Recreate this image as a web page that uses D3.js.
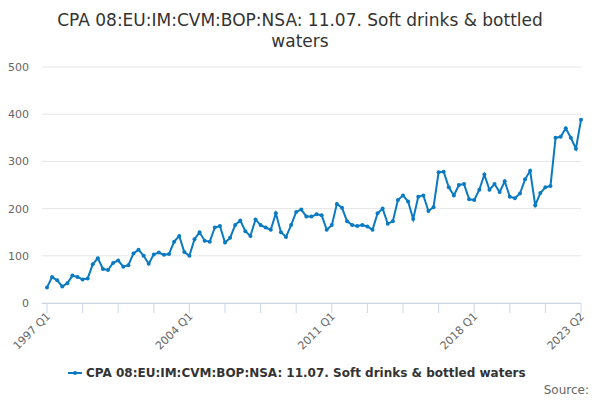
<!DOCTYPE html>
<html><head><meta charset="utf-8">
<script src="https://cdn.jsdelivr.net/npm/d3@7"></script>
<style>body{margin:0;background:#fff;font-family:"DejaVu Sans",sans-serif}</style>
</head><body><div id="chart"></div>
<script>
const seriesName = "CPA 08:EU:IM:CVM:BOP:NSA: 11.07. Soft drinks & bottled waters";
const startYear = 1997;
const values = [
  33, 55, 48, 35, 42, 58, 55, 50, 52, 82, 95, 72, 70, 85, 90, 77,
  80, 105, 113, 100, 83, 103, 107, 102, 104, 130, 142, 108,
  100, 135, 150, 132, 130, 160, 163, 128, 138, 165, 175, 152, 142, 177, 165, 160,
  155, 190, 150, 140, 165, 193, 198, 183, 183, 188, 186, 155,
  165, 210, 202, 173, 165, 163, 165, 162, 155, 190, 200, 168, 173, 218, 228, 215,
  178, 225, 228, 195, 203, 277, 278, 245, 228, 250, 252, 220,
  218, 240, 272, 240, 252, 235, 258, 225, 222, 232, 262, 280, 207, 233, 245, 248,
  350, 352, 370, 350, 327, 388
];
const labels = values.map((v, i) => `${startYear + Math.floor(i / 4)} Q${i % 4 + 1}`);
const yTicks = [0, 100, 200, 300, 400, 500];

const W = 600, H = 400;
const m = {left: 47, right: 19, top: 67, bottom: 103};
const svg = d3.select("#chart").append("svg").attr("width", W).attr("height", H);

svg.append("text").attr("x", 300).attr("y", 26).attr("text-anchor", "middle")
  .attr("font-size", 17).attr("fill", "#333").text("CPA 08:EU:IM:CVM:BOP:NSA: 11.07. Soft drinks & bottled");
svg.append("text").attr("x", 300).attr("y", 47).attr("text-anchor", "middle")
  .attr("font-size", 17).attr("fill", "#333").text("waters");

const x = d3.scaleLinear().domain([0, values.length - 1]).range([m.left, W - m.right]);
const y = d3.scaleLinear().domain([0, 500]).range([H - m.bottom + 6, m.top]);

// grid
svg.append("g").selectAll("line").data(yTicks).join("line")
  .attr("x1", m.left - 5).attr("x2", W - m.right).attr("y1", d => y(d)).attr("y2", d => y(d))
  .attr("stroke", "#e6e6e6");
svg.append("g").selectAll("text").data(yTicks).join("text")
  .attr("x", 29).attr("y", d => y(d) + 4).attr("text-anchor", "end")
  .attr("font-size", 11).attr("fill", "#666").text(d => d);

// x axis
const tickIdx = d3.range(0, values.length, 7);
const labelIdx = [0, 28, 56, 84, 105];
const xa = svg.append("g");
xa.append("line").attr("x1", m.left - 5).attr("x2", W - m.right).attr("y1", y(0) + 0.5).attr("y2", y(0) + 0.5).attr("stroke", "#ccd6eb");
xa.selectAll(".t").data(tickIdx).join("line")
  .attr("x1", d => x(d)).attr("x2", d => x(d)).attr("y1", y(0)).attr("y2", y(0) + 10).attr("stroke", "#ccd6eb");
xa.selectAll("text").data(labelIdx).join("text")
  .attr("transform", d => `translate(${x(d) + 4},${y(0) + 14}) rotate(-45)`)
  .attr("text-anchor", "end").attr("font-size", 11).attr("fill", "#666").text(d => labels[d]);

// line
const color = "#0a7ac2";
svg.append("path").datum(values)
  .attr("d", d3.line().x((d, i) => x(i)).y(d => y(d)))
  .attr("fill", "none").attr("stroke", color).attr("stroke-width", 2);
svg.append("g").selectAll("circle").data(values).join("circle")
  .attr("cx", (d, i) => x(i)).attr("cy", d => y(d)).attr("r", 2).attr("fill", color);

// legend
const lg = svg.append("g").attr("transform", "translate(68,373)");
lg.append("line").attr("x1", 0).attr("x2", 14).attr("stroke", color).attr("stroke-width", 2);
lg.append("circle").attr("cx", 7).attr("r", 2).attr("fill", color);
lg.append("text").attr("x", 18).attr("y", 4).attr("font-size", 12).attr("font-weight", "bold").attr("fill", "#333").text(seriesName);
svg.append("text").attr("x", 589).attr("y", 394).attr("text-anchor", "end").attr("font-size", 12).attr("fill", "#666").text("Source:");
</script></body></html>
